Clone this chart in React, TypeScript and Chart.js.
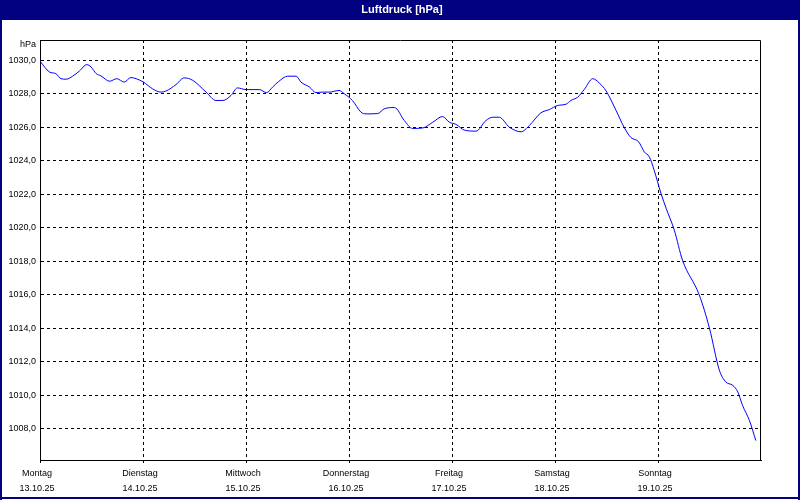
import { useEffect, useRef } from "react";
import { Chart, registerables } from "chart.js";

Chart.register(...registerables);

const TITLE = "Luftdruck [hPa]";
const UNIT = "hPa";
const dayNames = ["Montag", "Dienstag", "Mittwoch", "Donnerstag", "Freitag", "Samstag", "Sonntag"];
const dayDates = ["13.10.25", "14.10.25", "15.10.25", "16.10.25", "17.10.25", "18.10.25", "19.10.25"];
const dayTickHours = [0, 24, 48, 72, 96, 120, 144];
const yTicks = [1008, 1010, 1012, 1014, 1016, 1018, 1020, 1022, 1024, 1026, 1028, 1030];

// hours since Monday 13.10.25 00:00
const hours = [
  0, 2.2, 3.7, 4.9, 6.1, 7.6, 9.2, 10.9, 11.9, 13.1, 14.2, 16.2, 17.9, 19.6, 21.2,
  22.4, 24.1, 26.2, 28.2, 29.4, 31.7, 33.6, 35.6, 38.7, 41.0, 42.6, 44.5, 46.0, 48.0, 51.1,
  52.8, 54.2, 55.6, 57.7, 59.7, 60.8, 62.8, 64.3, 65.9, 67.4, 69.7, 70.9, 72.8, 74.8, 76.0,
  78.7, 80.2, 82.6, 84.9, 86.8, 89.2, 91.5, 93.8, 95.4, 96.9, 98.9, 101.6, 103.9, 105.5, 107.0,
  109.4, 112.1, 114.0, 116.7, 118.7, 120.6, 122.6, 123.7, 125.3, 126.8, 128.8, 130.3, 131.9, 134.2, 136.1,
  137.7, 139.5, 140.8, 142.0, 143.1, 144.7, 145.9, 147.8, 149.7, 153.6, 156.0, 158.3, 159.8, 161.4, 162.6,
  163.7, 165.3, 166.8,
];

const pressure = [
  1029.95, 1029.3, 1029.2, 1028.9, 1028.87, 1029.05, 1029.36, 1029.74, 1029.6, 1029.2, 1029.07, 1028.75, 1028.9, 1028.7, 1028.97,
  1028.9, 1028.7, 1028.3, 1028.1, 1028.17, 1028.55, 1028.95, 1028.8, 1028.1, 1027.6, 1027.6, 1027.9, 1028.35, 1028.25, 1028.25,
  1028.07, 1028.4, 1028.73, 1029.05, 1029.05, 1028.7, 1028.4, 1028.07, 1028.1, 1028.1, 1028.2, 1028.0, 1027.6, 1026.9, 1026.8,
  1026.82, 1027.1, 1027.18, 1026.4, 1025.93, 1025.96, 1026.3, 1026.64, 1026.3, 1026.18, 1025.83, 1025.77, 1026.4, 1026.6, 1026.6,
  1026.0, 1025.73, 1026.1, 1026.86, 1027.06, 1027.3, 1027.38, 1027.6, 1027.8, 1028.25, 1028.9, 1028.65, 1028.17, 1027.02, 1026.0,
  1025.39, 1025.13, 1024.53, 1024.23, 1023.44, 1022.05, 1021.16, 1019.86, 1018.07, 1016.0, 1014.0, 1011.5, 1010.8, 1010.6, 1010.2,
  1009.4, 1008.5, 1007.3,
];

const FONT_FAMILY = "'Liberation Sans', Arial, sans-serif";
const TICK_SIZE = 9;
const NAVY = "#000080";

const framePlugin = {
  id: "frame",
  beforeDraw(chart: any) {
    const { ctx, width, height } = chart;
    ctx.save();
    ctx.fillStyle = "#ffffff";
    ctx.fillRect(0, 0, width, height);
    ctx.fillStyle = NAVY;
    ctx.fillRect(0, 0, width, 20);
    ctx.fillRect(0, 0, 2, height);
    ctx.fillRect(width - 2, 0, 2, height);
    ctx.fillRect(0, height - 3, width, 2);
    ctx.fillStyle = "#ffffff";
    ctx.font = `bold 11px ${FONT_FAMILY}`;
    ctx.textAlign = "center";
    ctx.textBaseline = "middle";
    ctx.fillText(TITLE, 402, 10);
    ctx.restore();
  },
  afterDraw(chart: any) {
    const { ctx, chartArea } = chart;
    ctx.save();
    ctx.strokeStyle = "#000000";
    ctx.lineWidth = 1;
    ctx.setLineDash([]);
    ctx.beginPath();
    ctx.moveTo(chartArea.left + 0.5, chartArea.top + 0.5);
    ctx.lineTo(chartArea.right - 0.5, chartArea.top + 0.5);
    ctx.lineTo(chartArea.right - 0.5, chartArea.bottom + 0.5);
    ctx.stroke();
    ctx.fillStyle = "#000000";
    ctx.font = `${TICK_SIZE}px ${FONT_FAMILY}`;
    ctx.textAlign = "right";
    ctx.textBaseline = "middle";
    ctx.fillText(UNIT, 36, 45);
    ctx.restore();
  },
};

export default function App() {
  const canvasRef = useRef<HTMLCanvasElement | null>(null);

  useEffect(() => {
    const canvas = canvasRef.current;
    if (!canvas) return;
    const data = hours.map((h, i) => ({ x: h, y: pressure[i] }));
    const chart = new Chart(canvas, {
      type: "line",
      data: {
        datasets: [
          {
            data,
            borderColor: "#0000ff",
            borderWidth: 1,
            pointRadius: 0,
            fill: false,
            cubicInterpolationMode: "monotone",
          },
        ],
      },
      options: {
        animation: false,
        responsive: false,
        devicePixelRatio: 1,
        layout: { padding: { left: 0, top: 40, right: 39, bottom: 0 } },
        plugins: {
          legend: { display: false },
          title: { display: false },
          tooltip: { enabled: false },
        },
        scales: {
          x: {
            type: "linear",
            min: 0,
            max: 168,
            afterFit(scale: any) {
              scale.height = 40;
            },
            afterBuildTicks(scale: any) {
              scale.ticks = dayTickHours.map((v) => ({ value: v }));
            },
            grid: {
              color: "#000000",
              lineWidth: 1,
              drawTicks: true,
              tickLength: 3,
              tickColor: "#000000",
              tickBorderDash: [],
            },
            border: { display: true, color: "#000000", width: 1, dash: [3, 3] },
            ticks: {
              color: "#000000",
              padding: 3,
              labelOffset: -3,
              maxRotation: 0,
              autoSkip: false,
              font: { family: FONT_FAMILY, size: TICK_SIZE, lineHeight: "15px" },
              callback(value: any) {
                const idx = dayTickHours.indexOf(Number(value));
                return idx >= 0 ? [dayNames[idx], dayDates[idx]] : "";
              },
            },
          },
          y: {
            type: "linear",
            min: 1006.14,
            max: 1031.21,
            afterFit(scale: any) {
              scale.width = 40;
            },
            afterBuildTicks(scale: any) {
              scale.ticks = yTicks.map((v) => ({ value: v }));
            },
            grid: {
              color: "#000000",
              lineWidth: 1,
              drawTicks: false,
            },
            border: { display: true, color: "#000000", width: 1, dash: [3, 3] },
            ticks: {
              color: "#000000",
              padding: 4,
              font: { family: FONT_FAMILY, size: TICK_SIZE },
              callback(value: any) {
                return Number(value).toFixed(1).replace(".", ",");
              },
            },
          },
        },
      },
      plugins: [framePlugin],
    });
    return () => chart.destroy();
  }, []);

  return (
    <div style={{ position: "absolute", left: 0, top: 0, width: 800, height: 500 }}>
      <canvas ref={canvasRef} width={800} height={500} style={{ display: "block", width: 800, height: 500 }} />
    </div>
  );
}
